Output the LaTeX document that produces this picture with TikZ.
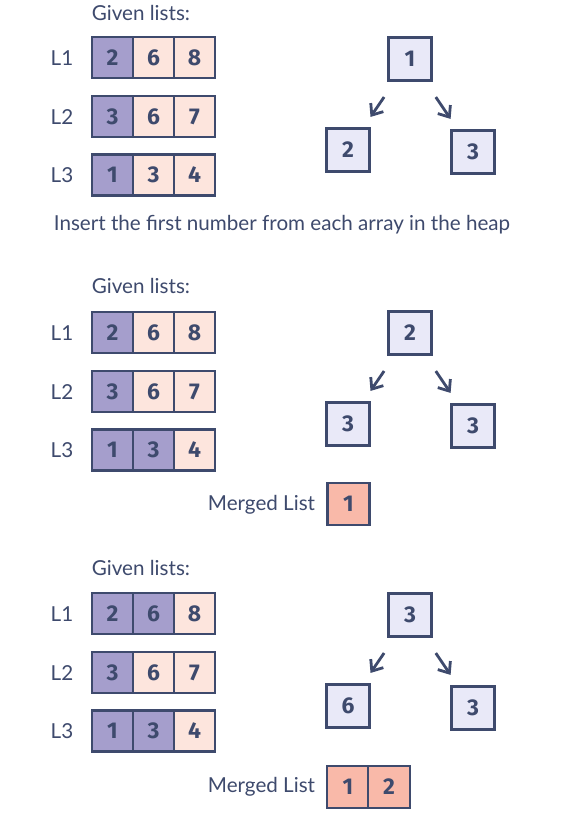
\documentclass[tikz,border=0pt]{standalone}
\usepackage{fontspec}
\setmainfont{Lato}
\newfontfamily\digitfont{Fira Sans}
\usetikzlibrary{arrows.meta}
\definecolor{ink}{HTML}{3E4A6D}
\definecolor{takenfill}{HTML}{A59ECC}
\definecolor{waitingfill}{HTML}{FDE5DD}
\definecolor{heapfill}{HTML}{E9E9F8}
\definecolor{mergedfill}{HTML}{F9B9A9}
\begin{document}
\begin{tikzpicture}[x=0.03cm,y=-0.03cm,
  every node/.style={outer sep=0pt, text=ink},
  lbl/.style={font=\fontsize{17.6pt}{20pt}\selectfont},
  cell/.style={draw=ink, line width=2.4pt, minimum size=1.23cm, inner sep=0pt, font=\digitfont\bfseries\fontsize{19.5pt}{22pt}\selectfont},
  taken/.style={cell, fill=takenfill},
  waiting/.style={cell, fill=waitingfill},
  heapnode/.style={cell, fill=heapfill, minimum size=1.29cm},
  mergednode/.style={cell, fill=mergedfill, minimum size=1.26cm},
  heaparrow/.style={draw=ink, line width=2.4pt, -{Straight Barb[length=8pt,width=13pt]}, shorten <=0.6cm, shorten >=0.42cm}]
\useasboundingbox[fill=white] (0,0) rectangle (562,829);
% first step
\node[lbl, anchor=west] (given1) at (88,13) {Given lists:};
\node[lbl] (l11) at (62,58) {L1};
\node[lbl] (l12) at (62,117) {L2};
\node[lbl] (l13) at (62,175) {L3};
\node[taken] (a111) at (112.5,57.5) {2};
\node[waiting] (a112) at (153.5,57.5) {6};
\node[waiting] (a113) at (194.5,57.5) {8};
\node[taken] (a121) at (112.5,116.5) {3};
\node[waiting] (a122) at (153.5,116.5) {6};
\node[waiting] (a123) at (194.5,116.5) {7};
\node[taken] (a131) at (112.5,175) {1};
\node[waiting] (a132) at (153.5,175) {3};
\node[waiting] (a133) at (194.5,175) {4};
\node[heapnode] (h1t) at (410,59) {1};
\node[heapnode] (h1l) at (348,150) {2};
\node[heapnode] (h1r) at (473,152) {3};
\draw[heaparrow] (h1t) -- (h1l);
\draw[heaparrow] (h1t) -- (h1r);
\node[lbl, anchor=west] (note1) at (50,225) {Insert the first number from each array in the heap};
% second step
\node[lbl, anchor=west] (given2) at (88,286) {Given lists:};
\node[lbl] (l21) at (62,333) {L1};
\node[lbl] (l22) at (62,392) {L2};
\node[lbl] (l23) at (62,450) {L3};
\node[taken] (a211) at (112.5,332.5) {2};
\node[waiting] (a212) at (153.5,332.5) {6};
\node[waiting] (a213) at (194.5,332.5) {8};
\node[taken] (a221) at (112.5,391.5) {3};
\node[waiting] (a222) at (153.5,391.5) {6};
\node[waiting] (a223) at (194.5,391.5) {7};
\node[taken] (a231) at (112.5,450) {1};
\node[taken] (a232) at (153.5,450) {3};
\node[waiting] (a233) at (194.5,450) {4};
\node[heapnode] (h2t) at (410,333) {2};
\node[heapnode] (h2l) at (348,424) {3};
\node[heapnode] (h2r) at (473,426) {3};
\draw[heaparrow] (h2t) -- (h2l);
\draw[heaparrow] (h2t) -- (h2r);
\node[lbl, anchor=east] (m2) at (319,505) {Merged List};
\node[mergednode] (m21) at (348.5,504) {1};
% third step
\node[lbl, anchor=west] (given3) at (88,568) {Given lists:};
\node[lbl] (l31) at (62,614) {L1};
\node[lbl] (l32) at (62,673) {L2};
\node[lbl] (l33) at (62,731) {L3};
\node[taken] (a311) at (112.5,613.5) {2};
\node[taken] (a312) at (153.5,613.5) {6};
\node[waiting] (a313) at (194.5,613.5) {8};
\node[taken] (a321) at (112.5,672.5) {3};
\node[waiting] (a322) at (153.5,672.5) {6};
\node[waiting] (a323) at (194.5,672.5) {7};
\node[taken] (a331) at (112.5,731) {1};
\node[taken] (a332) at (153.5,731) {3};
\node[waiting] (a333) at (194.5,731) {4};
\node[heapnode] (h3t) at (410,615) {3};
\node[heapnode] (h3l) at (348,706) {6};
\node[heapnode] (h3r) at (473,708) {3};
\draw[heaparrow] (h3t) -- (h3l);
\draw[heaparrow] (h3t) -- (h3r);
\node[lbl, anchor=east] (m3) at (319,787) {Merged List};
\node[mergednode] (m31) at (348,787) {1};
\node[mergednode] (m32) at (389,787) {2};
\end{tikzpicture}
\end{document}
